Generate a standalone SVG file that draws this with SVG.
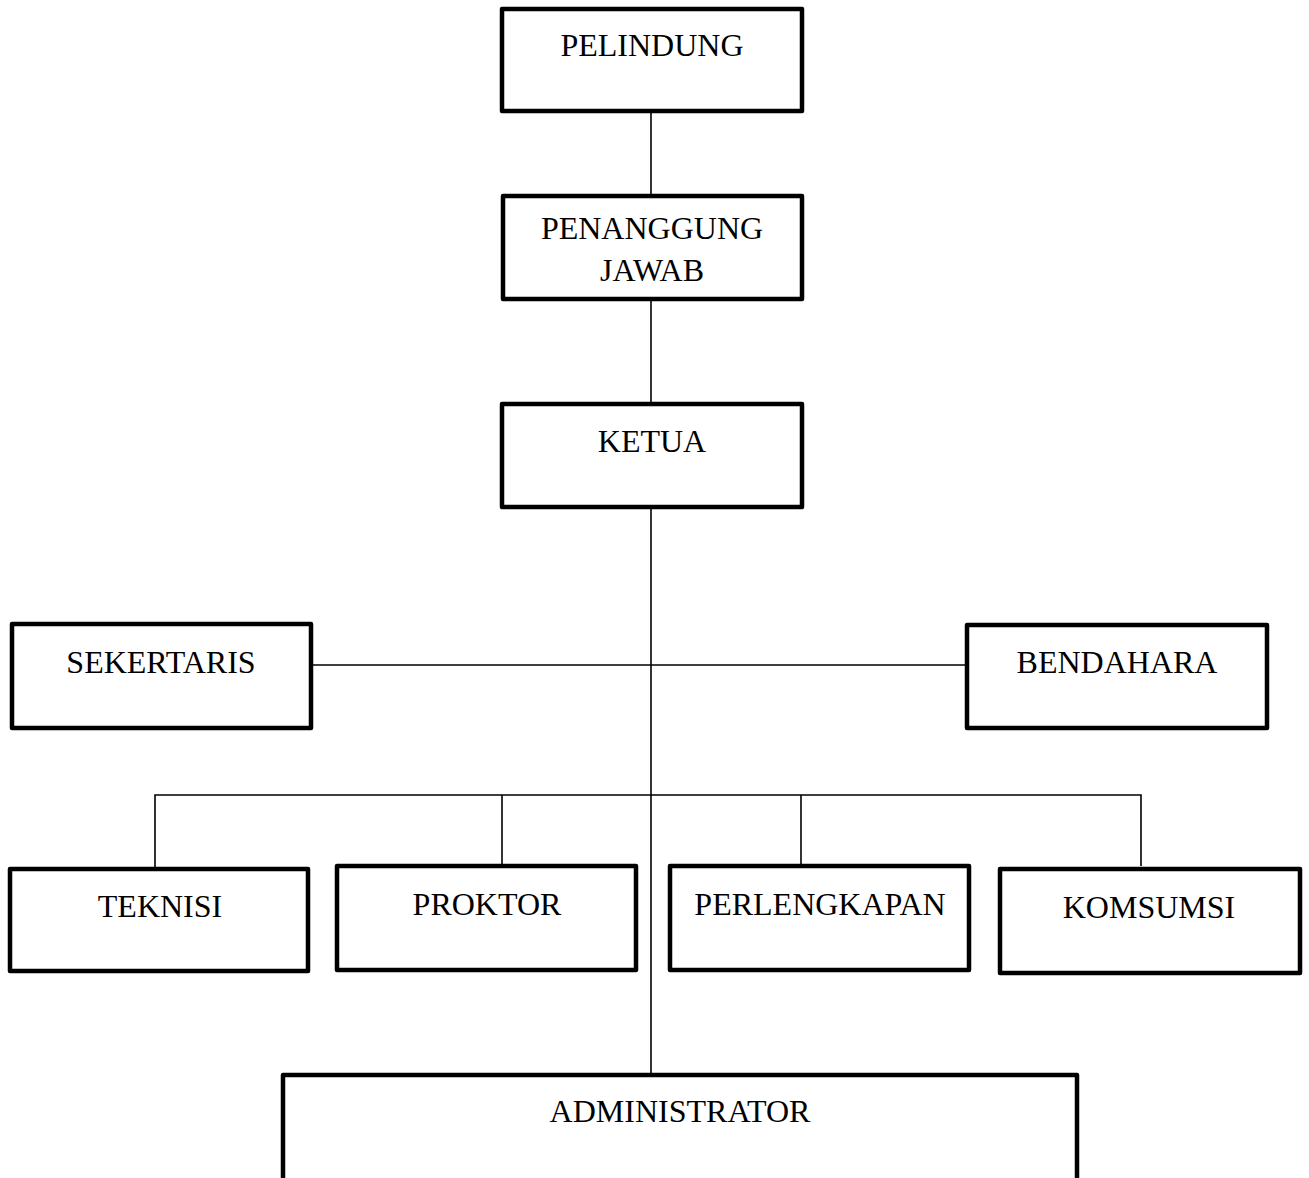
<svg xmlns="http://www.w3.org/2000/svg" width="1309" height="1178" viewBox="0 0 1309 1178">
<style>
.box{fill:#fff;stroke:#000;stroke-width:4.5;stroke-linejoin:round}
.lbl{font-family:"Liberation Serif","Times New Roman",serif;font-size:32px;fill:#000;text-anchor:middle}
.con{stroke:#000;stroke-width:1.6;fill:none}
</style>
<rect width="1309" height="1178" fill="#fff"/>
<g id="connectors">
<line class="con" x1="651" y1="111" x2="651" y2="196"/>
<line class="con" x1="651" y1="299" x2="651" y2="404"/>
<line class="con" x1="651" y1="507" x2="651" y2="1075"/>
<line class="con" x1="311" y1="665" x2="967" y2="665"/>
<polyline class="con" points="155,869 155,795 1141,795 1141,866"/>
<line class="con" x1="502" y1="795" x2="502" y2="866"/>
<line class="con" x1="801" y1="795" x2="801" y2="866"/>
</g>
<g id="pelindung"><rect class="box" x="502" y="9" width="300" height="102"/><text class="lbl" x="652" y="56">PELINDUNG</text></g>
<g id="penanggung-jawab"><rect class="box" x="503" y="196" width="299" height="103"/><text class="lbl" x="652" y="239">PENANGGUNG</text><text class="lbl" x="652" y="281">JAWAB</text></g>
<g id="ketua"><rect class="box" x="502" y="404" width="300" height="103"/><text class="lbl" x="652" y="452">KETUA</text></g>
<g id="sekertaris"><rect class="box" x="12" y="624" width="299" height="104"/><text class="lbl" x="161" y="673">SEKERTARIS</text></g>
<g id="bendahara"><rect class="box" x="967" y="625" width="300" height="103"/><text class="lbl" x="1117" y="673">BENDAHARA</text></g>
<g id="teknisi"><rect class="box" x="10" y="869" width="298" height="102"/><text class="lbl" x="160" y="917">TEKNISI</text></g>
<g id="proktor"><rect class="box" x="337" y="866" width="299" height="104"/><text class="lbl" x="487" y="915">PROKTOR</text></g>
<g id="perlengkapan"><rect class="box" x="670" y="866" width="299" height="104"/><text class="lbl" x="820" y="915">PERLENGKAPAN</text></g>
<g id="komsumsi"><rect class="box" x="1000" y="869" width="300" height="104"/><text class="lbl" x="1149" y="918">KOMSUMSI</text></g>
<g id="administrator"><rect class="box" x="283" y="1075" width="794" height="120"/><text class="lbl" x="680" y="1122">ADMINISTRATOR</text></g>
</svg>
